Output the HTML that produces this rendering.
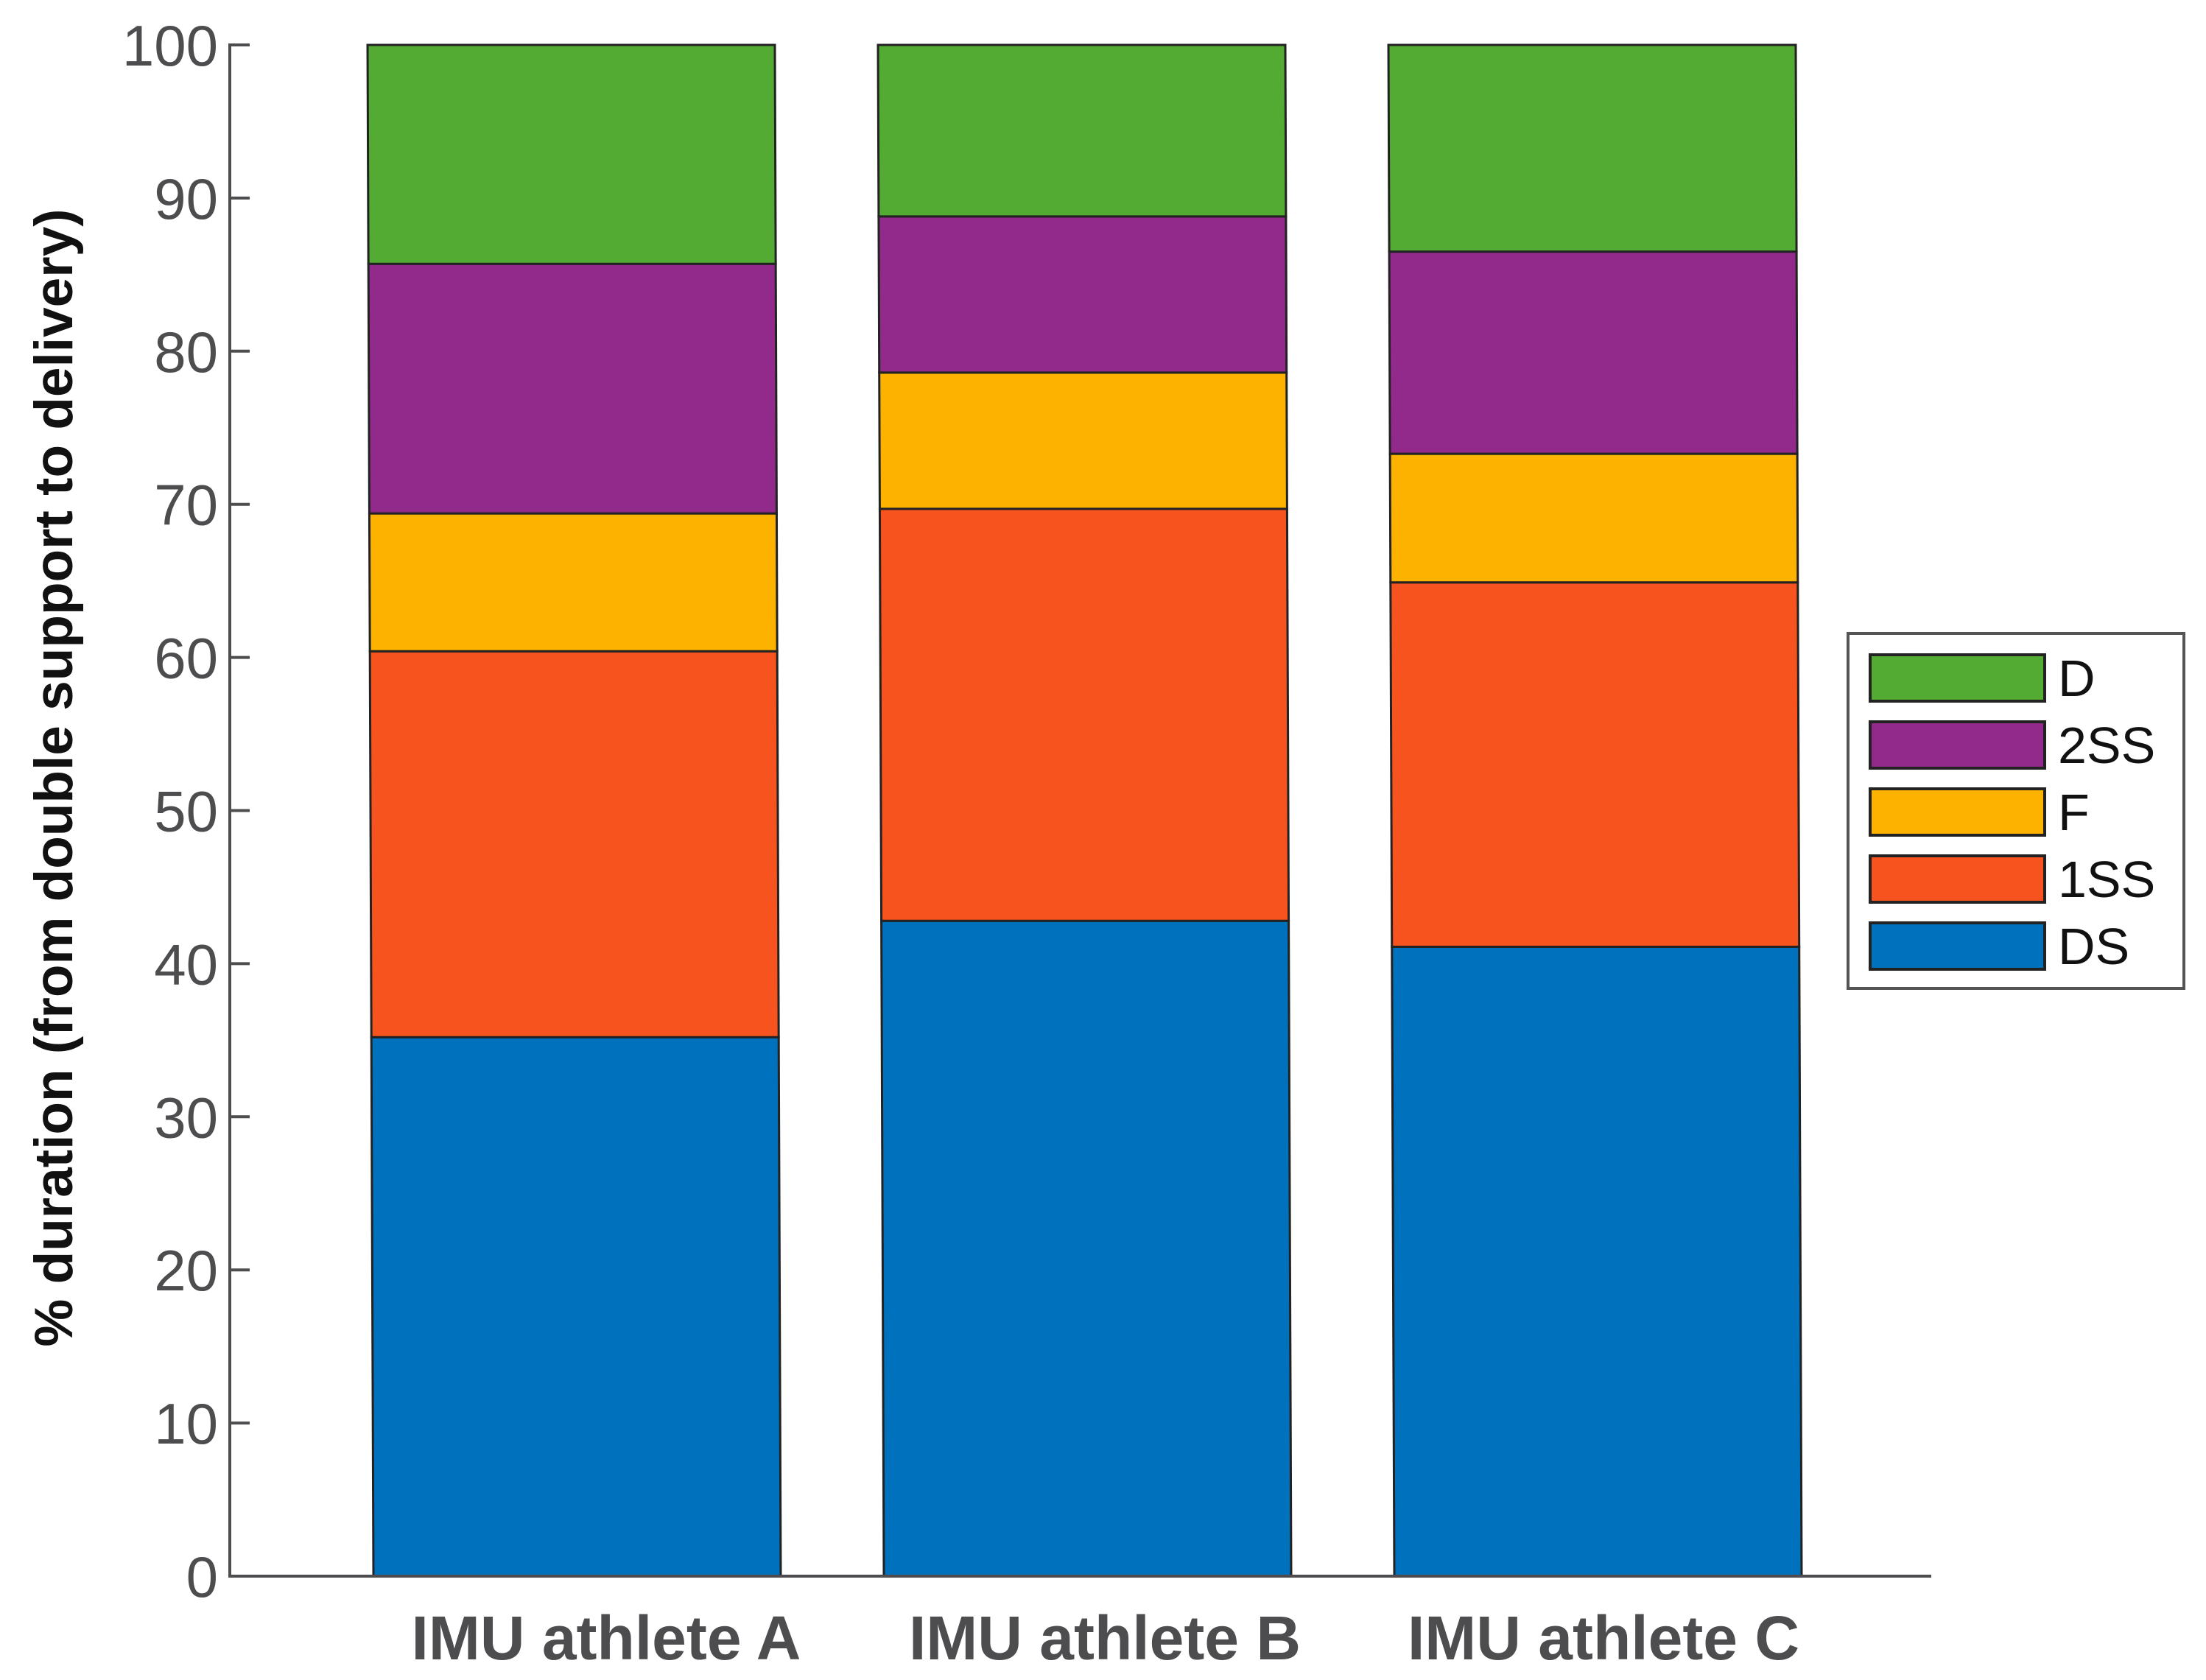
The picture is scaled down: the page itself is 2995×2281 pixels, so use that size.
<!DOCTYPE html>
<html><head><meta charset="utf-8"><style>
html,body{margin:0;padding:0;background:#fff;}
svg{display:block;font-family:"Liberation Sans",Arial,sans-serif;}
</style></head><body>
<svg id="chart" width="2995" height="2281" viewBox="0 0 2995 2281" xmlns="http://www.w3.org/2000/svg">
<rect width="2995" height="2281" fill="#fff"/>
<g id="bars"></g>
<g id="axes"></g>
<g id="legend"></g>
</svg>
<script>
const categories = ["IMU athlete A","IMU athlete B","IMU athlete C"];
const seriesNames = ["DS","1SS","F","2SS","D"];
const seriesDS = [35.2, 42.8, 41.1];
const series1SS = [25.2, 26.9, 23.8];
const seriesF = [9.0, 8.9, 8.4];
const series2SS = [16.3, 10.2, 13.2];
const seriesD = [14.3, 11.2, 13.5];
const yTicks = [0,10,20,30,40,50,60,70,80,90,100];

const colors = ["#0072bd","#f7531f","#fdb200","#912a8b","#53ab34"];
const allSeries = [seriesDS, series1SS, seriesF, series2SS, seriesD];
const NS = "http://www.w3.org/2000/svg";
const y0 = 2140, y1 = 61, axX = 312, axRight = 2622;
function yS(v){ return y0 - (v/100)*(y0-y1); }
const barW = 553, firstLeftTop = 499, step = 693, skew = 8;
function xAt(i, y){
  const t = (y - y1)/(y0 - y1);
  return firstLeftTop + i*step + skew*t;
}
function mk(tag, attrs, parent){
  const e = document.createElementNS(NS, tag);
  for (const k in attrs) e.setAttribute(k, attrs[k]);
  parent.appendChild(e); return e;
}
const gB = document.getElementById('bars');
categories.forEach((c,i)=>{
  let base = 0;
  allSeries.forEach((s,k)=>{
    const top = base + s[i];
    const ya = yS(base), yb = yS(top);
    const pts = [[xAt(i,yb),yb],[xAt(i,yb)+barW,yb],[xAt(i,ya)+barW,ya],[xAt(i,ya),ya]].map(p=>p.join(',')).join(' ');
    const p = mk('polygon',{points:pts, fill:colors[k], stroke:'#222', 'stroke-width':3}, gB);
    
    
    base = top;
  });
});
const gA = document.getElementById('axes');
const yl = mk('line',{x1:axX,y1:y1-2,x2:axX,y2:y0+2,stroke:'#4d4d4f','stroke-width':4},gA);


const xl = mk('line',{x1:axX-2,y1:y0,x2:axRight,y2:y0,stroke:'#4d4d4f','stroke-width':4},gA);


yTicks.forEach(t=>{
  const y = yS(t);
  const tk = mk('line',{x1:axX,y1:y,x2:axX+27,y2:y,stroke:'#4d4d4f','stroke-width':4},gA);
  
  
  const tx = mk('text',{x:296,y:y+28,'text-anchor':'end','font-size':78,fill:'#4d4d4f'},gA);
  tx.textContent = t;
  
  
});
categories.forEach((c,i)=>{
  const tx = mk('text',{x:823+i*677,y:2253,'text-anchor':'middle','font-size':84,'font-weight':'bold',fill:'#4d4d4f'},gA);
  tx.textContent = c;
  
  
});
const yt = mk('text',{x:0,y:0,transform:'translate(98,1056) rotate(-90)','text-anchor':'middle','font-size':73,'font-weight':'bold',fill:'#111'},gA);
yt.textContent = '% duration (from double support to delivery)';



const gL = document.getElementById('legend');
const lb = mk('rect',{x:2509,y:860,width:456,height:482,fill:'#fff',stroke:'#555','stroke-width':4},gL);


for (let r=0;r<5;r++){
  const k = 4-r;
  const yc = 920 + r*91;
  const sw = mk('rect',{x:2539,y:yc-31,width:237,height:63,fill:colors[k],stroke:'#222','stroke-width':4},gL);
  
  
  const tx = mk('text',{x:2794,y:yc+25,'font-size':70,fill:'#111'},gL);
  tx.textContent = seriesNames[k];
  
  
}
</script>
</body></html>
